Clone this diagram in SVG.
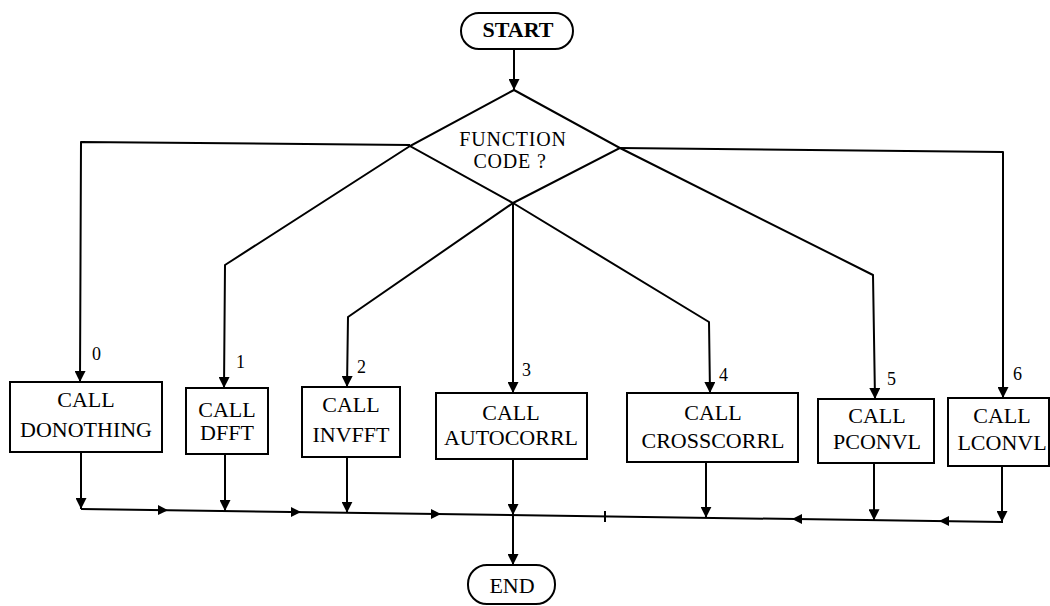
<svg xmlns="http://www.w3.org/2000/svg" width="1050" height="606" viewBox="0 0 1050 606">
  <style>
    .ln { fill: none; stroke: #000; stroke-width: 2; stroke-linejoin: round; }
    .box { fill: #fff; stroke: #000; stroke-width: 2; }
    .t { font-family: "Liberation Serif", "Times New Roman", serif; font-size: 22px; fill: #000; text-anchor: middle; }
    .q { font-size: 20px; letter-spacing: 0.8px; }
    .num { font-family: "Liberation Serif", "Times New Roman", serif; font-size: 18px; fill: #000; }
    .ah { fill: #000; }
  </style>
  <defs>
    <marker id="arr" viewBox="0 0 10 10" refX="10" refY="5" markerWidth="11" markerHeight="11" markerUnits="userSpaceOnUse" orient="auto">
      <path d="M0,0 L10,5 L0,10 z" fill="#000"/>
    </marker>
  </defs>

  <!-- connectors -->
  <g id="connectors">
    <!-- start to decision -->
    <path class="ln" d="M514,49 L514,90" marker-end="url(#arr)"/>
    <!-- case 0 -->
    <path class="ln" d="M410,145 L81,142 L80,382" marker-end="url(#arr)"/>
    <!-- case 1 -->
    <path class="ln" d="M410,146 L225,265 L224,388" marker-end="url(#arr)"/>
    <!-- case 2 -->
    <path class="ln" d="M513,203 L348,317 L347,387" marker-end="url(#arr)"/>
    <!-- case 3 -->
    <path class="ln" d="M513,203 L513,393" marker-end="url(#arr)"/>
    <!-- case 4 -->
    <path class="ln" d="M513,203 L709,322 L710,393" marker-end="url(#arr)"/>
    <!-- case 5 -->
    <path class="ln" d="M620,148 L873,275 L875,399" marker-end="url(#arr)"/>
    <!-- case 6 -->
    <path class="ln" d="M620,148 L1003,152 L1003,398" marker-end="url(#arr)"/>

    <!-- returns to the collecting line -->
    <path class="ln" d="M81,452 L81,509" marker-end="url(#arr)"/>
    <path class="ln" d="M225,454 L225,511" marker-end="url(#arr)"/>
    <path class="ln" d="M347,457 L347,512.7" marker-end="url(#arr)"/>
    <path class="ln" d="M513,459 L513,515" marker-end="url(#arr)"/>
    <path class="ln" d="M706,462 L706,517.8" marker-end="url(#arr)"/>
    <path class="ln" d="M874,463 L874,520.2" marker-end="url(#arr)"/>
    <path class="ln" d="M1002,466 L1002,522" marker-end="url(#arr)"/>

    <!-- collecting line -->
    <path class="ln" d="M81,509 L1003,522"/>
    <polygon class="ah" points="168,510.2 158,505.1 158,515.1"/>
    <polygon class="ah" points="301,512.1 291,507 291,517"/>
    <polygon class="ah" points="441,514.1 431,509 431,519"/>
    <path class="ln" d="M605,511 L605,522"/>
    <polygon class="ah" points="792,519 802,514 802,524"/>
    <polygon class="ah" points="939,521.1 949,516 949,526"/>

    <!-- to end -->
    <path class="ln" d="M513,515 L513,565" marker-end="url(#arr)"/>
  </g>

  <g id="start">
    <rect class="box" x="461" y="13" width="112" height="36" rx="18" ry="18"/>
    <text class="t" x="518" y="37" font-weight="bold" font-size="21">START</text>
  </g>

  <g id="decision">
    <polygon class="box" points="514,90 620,148 513,203 410,146"/>
    <text class="t q" x="513" y="146">FUNCTION</text>
    <text class="t q" x="510" y="168">CODE ?</text>
  </g>

  <g id="case-labels">
    <text class="num" x="92" y="360">0</text>
    <text class="num" x="236" y="368">1</text>
    <text class="num" x="357" y="373">2</text>
    <text class="num" x="522" y="376">3</text>
    <text class="num" x="719" y="381">4</text>
    <text class="num" x="887" y="385">5</text>
    <text class="num" x="1013" y="380">6</text>
  </g>

  <g id="donothing">
    <rect class="box" x="10" y="382" width="152" height="70"/>
    <text class="t" x="86" y="407">CALL</text>
    <text class="t" x="86" y="437">DONOTHING</text>
  </g>

  <g id="dfft">
    <rect class="box" x="186" y="388" width="82" height="66"/>
    <text class="t" x="227" y="417">CALL</text>
    <text class="t" x="227" y="440">DFFT</text>
  </g>

  <g id="invfft">
    <rect class="box" x="302" y="387" width="98" height="70"/>
    <text class="t" x="351" y="412">CALL</text>
    <text class="t" x="351" y="442">INVFFT</text>
  </g>

  <g id="autocorrl">
    <rect class="box" x="436" y="393" width="151" height="66"/>
    <text class="t" x="511" y="420">CALL</text>
    <text class="t" x="511" y="445">AUTOCORRL</text>
  </g>

  <g id="crosscorrl">
    <rect class="box" x="627" y="393" width="171" height="69"/>
    <text class="t" x="713" y="420">CALL</text>
    <text class="t" x="713" y="448">CROSSCORRL</text>
  </g>

  <g id="pconvl">
    <rect class="box" x="818" y="399" width="116" height="64"/>
    <text class="t" x="877" y="423">CALL</text>
    <text class="t" x="877" y="449">PCONVL</text>
  </g>

  <g id="lconvl">
    <rect class="box" x="948" y="398" width="101" height="68"/>
    <text class="t" x="1002" y="423">CALL</text>
    <text class="t" x="1002" y="450">LCONVL</text>
  </g>

  <g id="end">
    <rect class="box" x="468" y="565" width="87" height="39" rx="19" ry="19"/>
    <text class="t" x="512" y="593" font-size="20">END</text>
  </g>
</svg>
